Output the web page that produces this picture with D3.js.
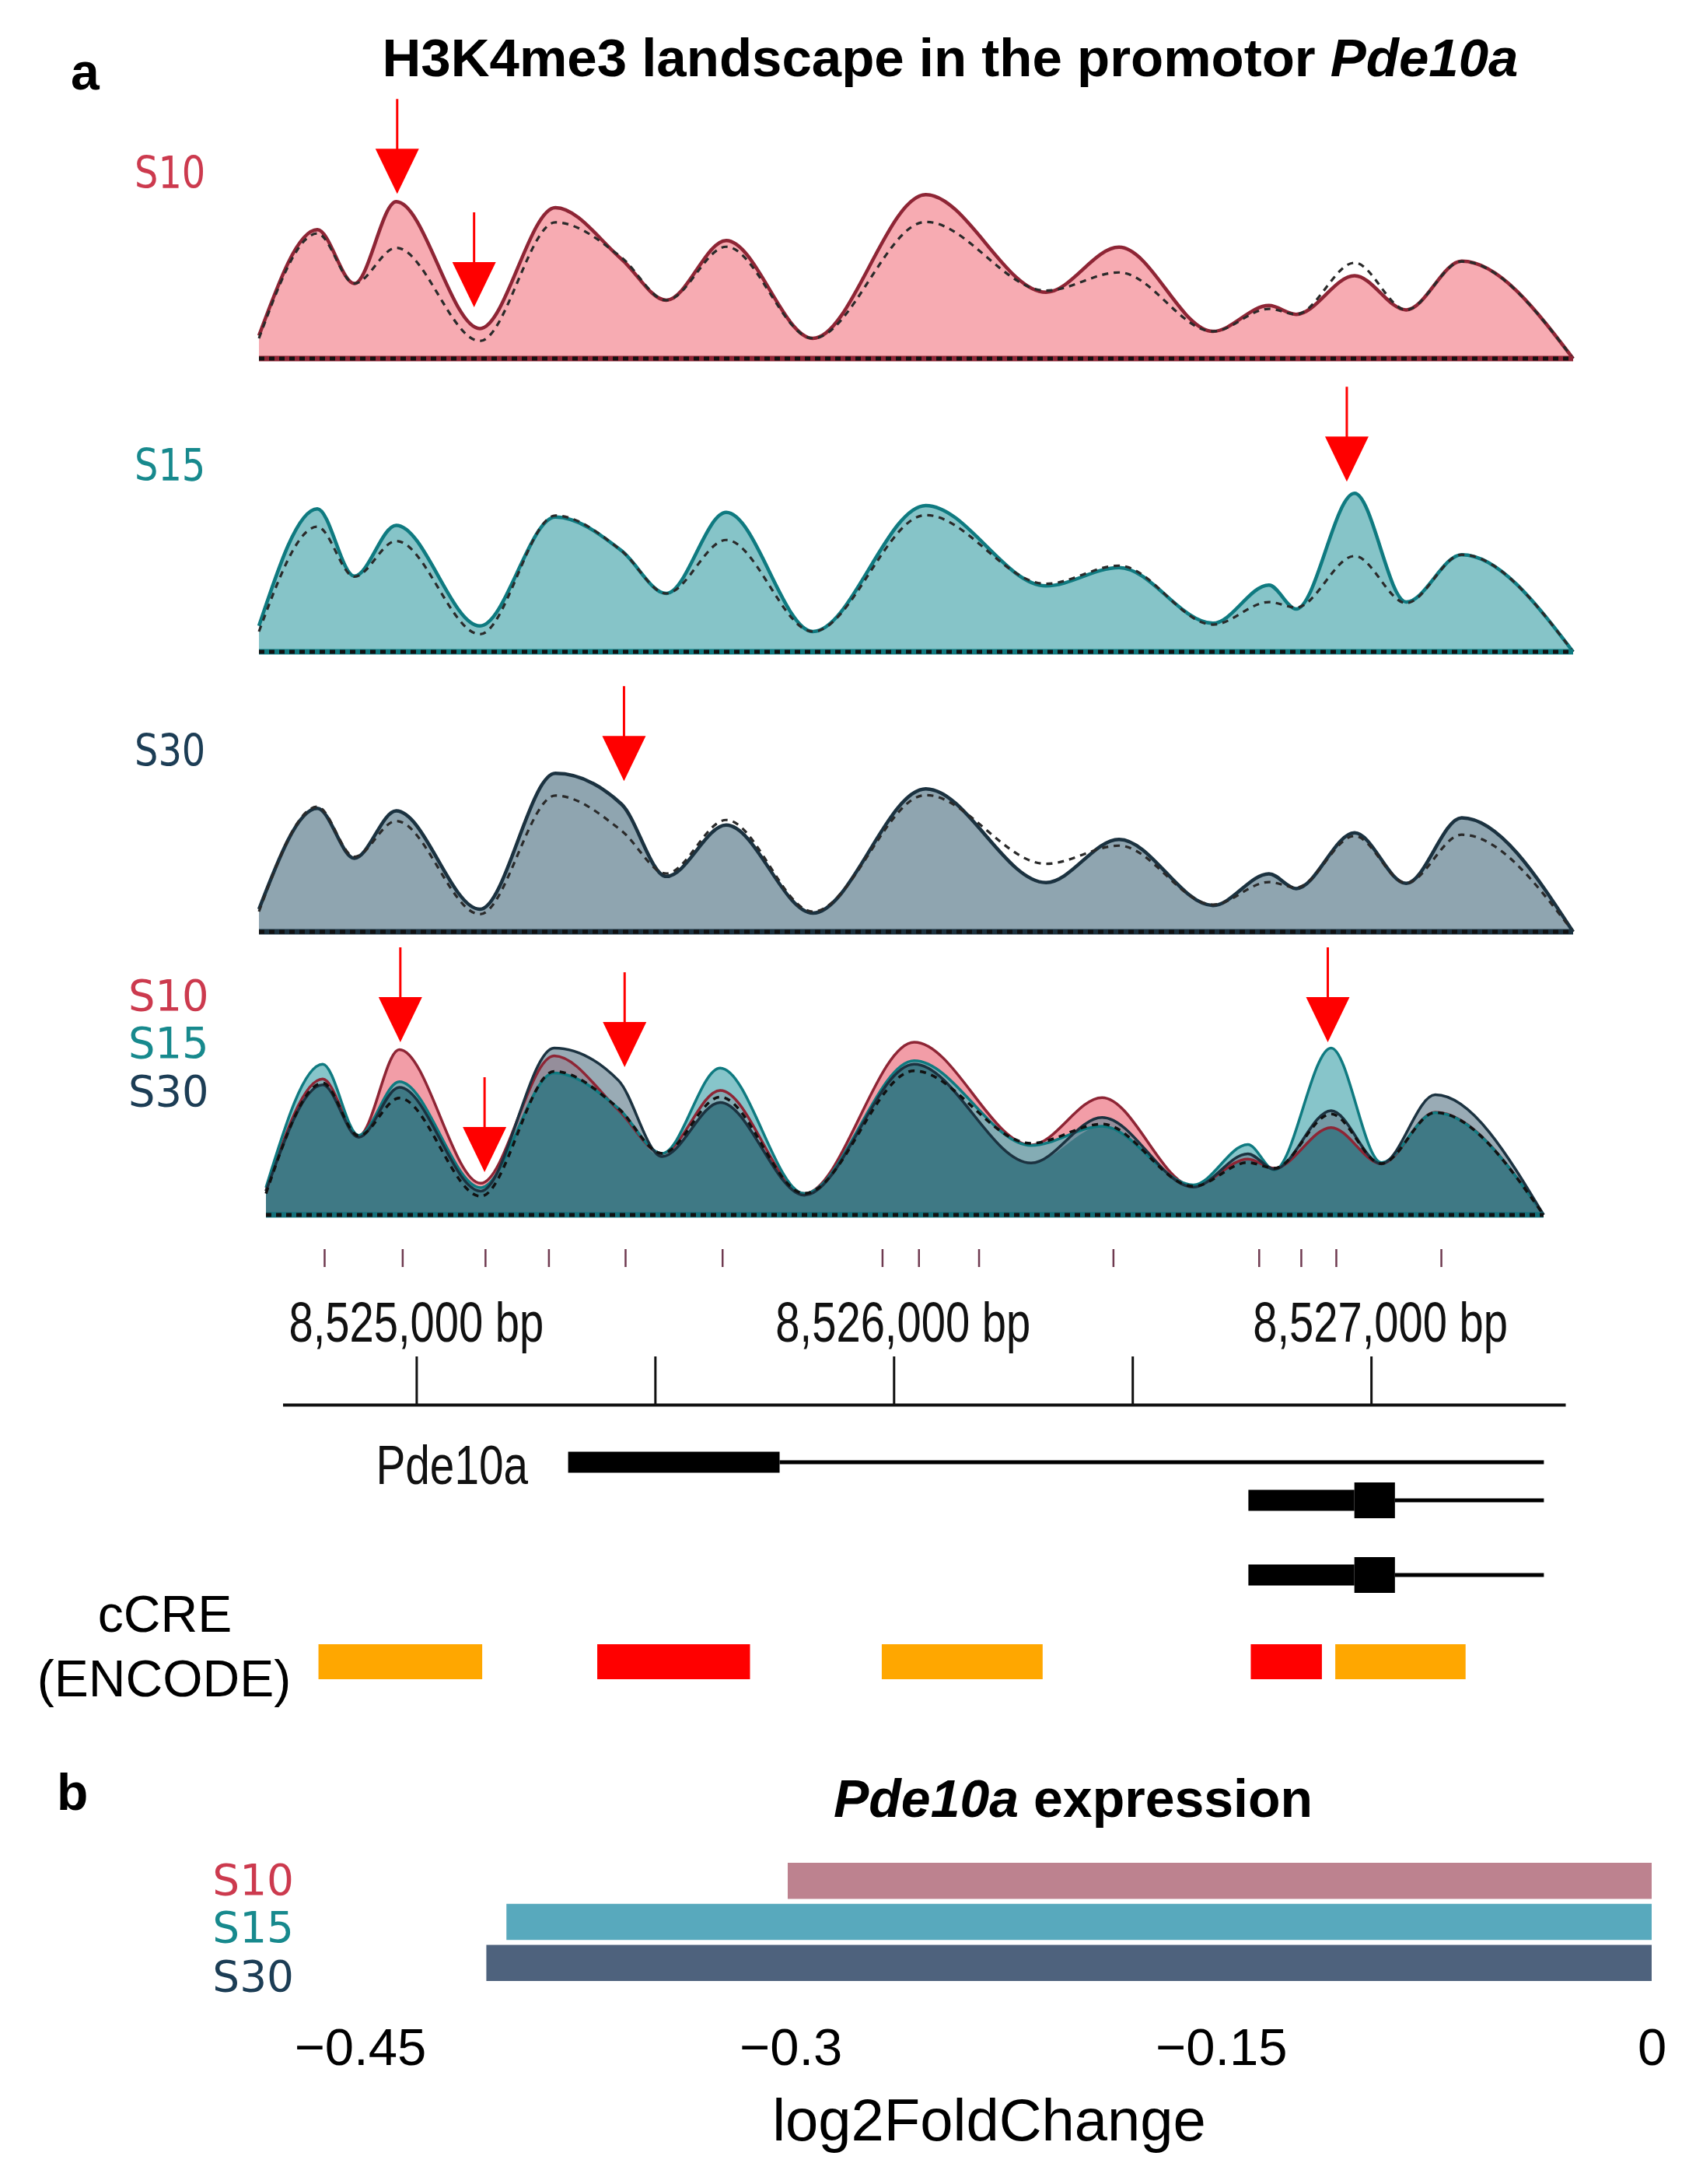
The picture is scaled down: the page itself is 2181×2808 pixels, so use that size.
<!DOCTYPE html>
<html><head><meta charset="utf-8">
<script src="https://cdn.jsdelivr.net/npm/d3@7"></script>
<style>body{margin:0;background:#fff}</style>
</head><body>
<svg id="chart" width="2181" height="2808" xmlns="http://www.w3.org/2000/svg"></svg>
<script>
// ---------------- DATA ----------------
const samples = ["S10", "S15", "S30"];
// genomic positions (bp) at which the H3K4me3 coverage profile was read
const positions = [8524700, 8524820, 8524896, 8524982, 8525154, 8525309, 8525445, 8525537, 8525660, 8525838,
                   8526070, 8526317, 8526467, 8526660, 8526775, 8526831, 8526951, 8527057, 8527171, 8527400];
const signalS10 = [13.8, 77.8, 45.3, 94.7, 18.1, 91.1, 60, 35.2, 71.3, 12.2, 98.9, 40, 67.2, 16.4, 32, 26.7, 50, 29.4, 58.8, 0];
const signalS15 = [15.6, 86.3, 45.6, 76.3, 15.6, 81.3, 61, 35.2, 84.1, 12.2, 88.3, 39.8, 50.8, 17.2, 40.3, 25.8, 95.6, 30, 58.6, 0];
const signalS30 = [13.6, 74.5, 44.4, 73, 13.6, 95.6, 77, 33.4, 64.4, 11.3, 86.3, 29.7, 55.8, 15.9, 35, 26.1, 59.7, 29.2, 68.8, 0];
const signalControl = [12.2, 75.5, 45.3, 66.9, 10.6, 82.2, 61, 35.2, 67.5, 12.2, 82.5, 41, 52, 16.4, 30, 26.7, 57.8, 29.4, 58.6, 0];

// red arrows: panel, genomic position, signal level of the arrow tip
const arrowPanel = ["S10", "S10", "S15", "S30", "All", "All", "All", "All"];
const arrowPos = [8524984, 8525142, 8526935, 8525450, 8524984, 8525162, 8525458, 8526944];
const arrowTip = [99.4, 31, 102.7, 91, 98.9, 24.5, 84.6, 98.9];

// small marks under the merged track
const markPos = [8524824, 8524989, 8525164, 8525298, 8525460, 8525665, 8526003, 8526080, 8526207,
                 8526491, 8526799, 8526888, 8526962, 8527184];

// genome axis
const genomeTicks = [8525000, 8525500, 8526000, 8526500, 8527000];
const genomeLabels = [8525000, 8526000, 8527000];

// gene model (Pde10a transcripts): row, start, end, kind
const blockRow = [0, 0, 1, 1, 1, 2, 2, 2];
const blockStart = [8525318, 8525761, 8526743, 8526965, 8527050, 8526743, 8526965, 8527050];
const blockEnd = [8525761, 8527362, 8526965, 8527050, 8527362, 8526965, 8527050, 8527362];
const blockKind = ["utr", "intron", "utr", "cds", "intron", "utr", "cds", "intron"];

// ENCODE cCREs
const ccreStart = [8524795, 8525379, 8525975, 8526748, 8526925];
const ccreEnd = [8525138, 8525699, 8526312, 8526897, 8527198];
const ccreType = ["pELS", "PLS", "pELS", "PLS", "pELS"];

// panel b: expression
const expression = [-0.301, -0.399, -0.406];
const expressionTicks = [-0.45, -0.3, -0.15, 0];

// ---------------- STYLE ----------------
const fillCol = {S10: "#f7abb2", S15: "#86c4c8", S30: "#8fa5b0"};
const strokeCol = {S10: "#8e2535", S15: "#0f7a80", S30: "#1b3240"};
const labelCol = {S10: "#cc3a4e", S15: "#17898d", S30: "#1c3d55"};
const ovFill = {S10: "rgba(240,140,152,0.85)", S15: "rgba(95,178,184,0.75)", S30: "rgba(110,135,150,0.7)"};
const barCol = {S10: "#bd828f", S15: "#58a9bd", S30: "#4e627d"};
const ccreCol = {PLS: "#ff0000", pELS: "#ffa700"};
const SANS = "'Liberation Sans', Arial, sans-serif";
const DEJA = "'DejaVu Sans', sans-serif";

const svg = d3.select("#chart");
svg.append("rect").attr("width", 2181).attr("height", 2808).attr("fill", "#fff");

function addText(x, y, str, o) {
  const t = svg.append("text")
    .attr("transform", `translate(${x},${y}) scale(${o.sx || 1},1)`)
    .attr("font-family", o.family || SANS)
    .attr("font-size", o.size)
    .attr("font-weight", o.weight || "normal")
    .attr("font-style", o.style || "normal")
    .attr("text-anchor", o.anchor || "start")
    .attr("fill", o.fill || "#000");
  if (str !== null) t.text(str);
  return t;
}

// ---------------- PANEL A ----------------
addText(91, 115, "a", {size: 66, weight: "bold"});
const title = addText(1222, 98, null, {size: 69, weight: "bold", anchor: "middle"});
title.append("tspan").text("H3K4me3 landscape in the promotor ");
title.append("tspan").attr("font-style", "italic").text("Pde10a");

const valuesOf = {S10: signalS10, S15: signalS15, S30: signalS30};
const trackX = d3.scaleLinear().domain([8524700, 8527400]).range([333, 2023]);
const overX = d3.scaleLinear().domain([8524700, 8527400]).range([342, 1985]);
const trackBase = {S10: 461, S15: 838, S30: 1198};
const labelBase = {S10: 242, S15: 618, S30: 985};

function arrow(x, tipY) {
  svg.append("line").attr("x1", x).attr("x2", x).attr("y1", tipY - 122).attr("y2", tipY - 56)
    .attr("stroke", "#ff0000").attr("stroke-width", 3);
  svg.append("path").attr("d", `M${x - 28},${tipY - 58}L${x + 28},${tipY - 58}L${x},${tipY}Z`).attr("fill", "#ff0000");
}

function baselineLine(x, y, col) {
  svg.append("line").attr("x1", x.range()[0]).attr("x2", x.range()[1]).attr("y1", y(0)).attr("y2", y(0))
    .attr("stroke", col).attr("stroke-width", 7);
  svg.append("line").attr("x1", x.range()[0]).attr("x2", x.range()[1]).attr("y1", y(0)).attr("y2", y(0))
    .attr("stroke", "#111").attr("stroke-width", 5).attr("stroke-dasharray", "7,6");
}

samples.forEach(s => {
  const y = d3.scaleLinear().domain([0, 100]).range([trackBase[s], trackBase[s] - 213]);
  const vals = valuesOf[s];
  const area = d3.area().x((d, i) => trackX(positions[i])).y0(y(0)).y1(d => y(d)).curve(d3.curveMonotoneX);
  const line = d3.line().x((d, i) => trackX(positions[i])).y(d => y(d)).curve(d3.curveMonotoneX);
  svg.append("path").attr("d", area(vals)).attr("fill", fillCol[s]);
  svg.append("path").attr("d", line(vals)).attr("fill", "none").attr("stroke", strokeCol[s]).attr("stroke-width", 4.5);
  svg.append("path").attr("d", line(signalControl)).attr("fill", "none").attr("stroke", "#2a2a2a")
    .attr("stroke-width", 3.2).attr("stroke-dasharray", "8,7");
  baselineLine(trackX, y, strokeCol[s]);
  addText(173, labelBase[s], s, {size: 57, family: DEJA, sx: 0.84, fill: labelCol[s]});
  arrowPanel.forEach((p, i) => { if (p === s) arrow(trackX(arrowPos[i]), y(arrowTip[i])); });
});

// merged track
{
  const y = d3.scaleLinear().domain([0, 100]).range([1562, 1562 - 224.5]);
  const area = d3.area().x((d, i) => overX(positions[i])).y0(y(0)).y1(d => y(d)).curve(d3.curveMonotoneX);
  const line = d3.line().x((d, i) => overX(positions[i])).y(d => y(d)).curve(d3.curveMonotoneX);
  samples.forEach(s => svg.append("path").attr("d", area(valuesOf[s])).attr("fill", ovFill[s]));
  const common = positions.map((_, i) => d3.min(samples, s => valuesOf[s][i]));
  svg.append("path").attr("d", area(common)).attr("fill", "#3f7985");
  samples.forEach(s => svg.append("path").attr("d", line(valuesOf[s])).attr("fill", "none")
    .attr("stroke", strokeCol[s]).attr("stroke-width", 3.5));
  svg.append("path").attr("d", line(signalControl)).attr("fill", "none").attr("stroke", "#111")
    .attr("stroke-width", 3.5).attr("stroke-dasharray", "8,7");
  baselineLine(overX, y, "#13707a");
  const ovLabelBase = [1299, 1360, 1422];
  samples.forEach((s, i) => addText(165, ovLabelBase[i], s, {size: 56, family: DEJA, sx: 0.97, fill: labelCol[s]}));
  arrowPanel.forEach((p, i) => { if (p === "All") arrow(overX(arrowPos[i]), y(arrowTip[i])); });
  svg.append("g").selectAll("line").data(markPos).join("line")
    .attr("x1", d => overX(d)).attr("x2", d => overX(d)).attr("y1", 1606).attr("y2", 1629)
    .attr("stroke", "#6f3a50").attr("stroke-width", 2.5);
}

// genome axis
const gX = d3.scaleLinear().domain([8524720, 8527407]).range([363.5, 2013]);
const gAxis = svg.append("g").attr("transform", "translate(0,1806)")
  .call(d3.axisTop(gX).tickValues(genomeTicks).tickSize(62).tickSizeOuter(0).tickFormat(""));
gAxis.select(".domain").attr("stroke", "#111").attr("stroke-width", 4);
gAxis.selectAll(".tick line").attr("stroke", "#111").attr("stroke-width", 3);
genomeLabels.forEach((v, i) => addText(gX(v) + (i ? 12 : 0), 1725, d3.format(",")(v) + " bp", {size: 72, anchor: "middle", sx: 0.78, fill: "#111"}));

// gene model
const rowY = [1880, 1929, 2025];
blockKind.forEach((k, i) => {
  const x0 = gX(blockStart[i]), x1 = gX(blockEnd[i]);
  const h = k === "intron" ? 5 : (k === "utr" ? 27 : 46);
  svg.append("rect").attr("x", x0).attr("width", x1 - x0).attr("y", rowY[blockRow[i]] - h / 2).attr("height", h).attr("fill", "#000");
});
addText(679, 1908, "Pde10a", {size: 70, anchor: "end", sx: 0.81, fill: "#111"});

// cCREs
ccreType.forEach((t, i) => {
  svg.append("rect").attr("x", gX(ccreStart[i])).attr("width", gX(ccreEnd[i]) - gX(ccreStart[i]))
    .attr("y", 2114).attr("height", 45).attr("fill", ccreCol[t]);
});
addText(212, 2098, "cCRE", {size: 66, anchor: "middle"});
addText(211, 2181, "(ENCODE)", {size: 66, anchor: "middle"});

// ---------------- PANEL B ----------------
addText(73, 2327, "b", {size: 66, weight: "bold"});
const t2 = addText(1380, 2336, null, {size: 68, weight: "bold", anchor: "middle"});
t2.append("tspan").attr("font-style", "italic").text("Pde10a");
t2.append("tspan").text(" expression");

const bx = d3.scaleLinear().domain([-0.45, 0]).range([463, 2124]);
const by = d3.scaleBand().domain(samples).range([2395, 2547]).paddingInner(0.12);
svg.append("g").selectAll("rect").data(samples).join("rect")
  .attr("x", (s, i) => bx(expression[i])).attr("width", (s, i) => bx(0) - bx(expression[i]))
  .attr("y", s => by(s)).attr("height", by.bandwidth()).attr("fill", s => barCol[s]);
const barLabelBase = [2436, 2497, 2560];
samples.forEach((s, i) => addText(378, barLabelBase[i], s, {size: 56, family: DEJA, sx: 0.98, anchor: "end", fill: labelCol[s]}));

const bAxis = svg.append("g").attr("transform", "translate(0,2600)")
  .call(d3.axisBottom(bx).tickValues(expressionTicks).tickSize(0).tickPadding(7).tickFormat(d3.format("")));
bAxis.select(".domain").remove();
bAxis.selectAll("text").attr("font-family", SANS).attr("font-size", 67).attr("fill", "#000");
addText(1272, 2752, "log2FoldChange", {size: 76, anchor: "middle"});
</script>
</body></html>
